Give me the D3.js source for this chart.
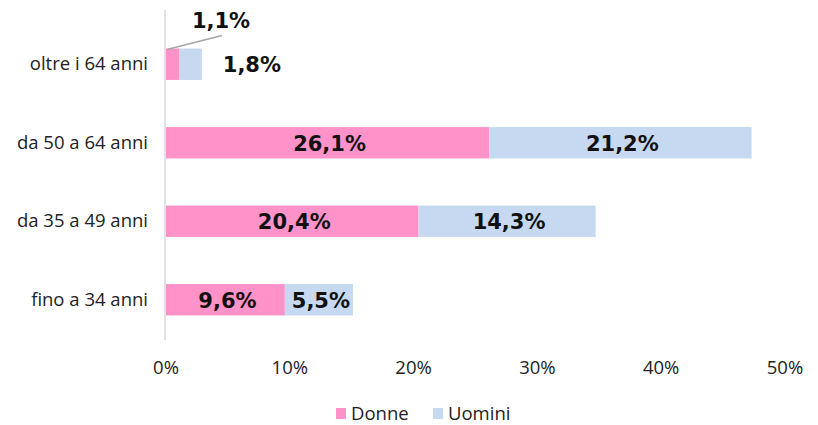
<!DOCTYPE html>
<html>
<head>
<meta charset="utf-8">
<script src="https://cdn.jsdelivr.net/npm/d3@7"></script>
<style>
  body { margin: 0; background: #fff; }
  svg { display: block; }
</style>
</head>
<body>
<svg width="818" height="425"></svg>
<script>
let categories = ["oltre i 64 anni", "da 50 a 64 anni", "da 35 a 49 anni", "fino a 34 anni"];
let donne = [1.1, 26.1, 20.4, 9.6];
let uomini = [1.8, 21.2, 14.3, 5.5];
let tickValues = [0, 10, 20, 30, 40, 50];
let seriesNames = ["Donne", "Uomini"];
let colors = ["#ff93c9", "#c6d9f0"];

let svg = d3.select("svg");

let x = d3.scaleLinear().domain([0, 50]).range([166, 785]);
let y = d3.scaleBand().domain(categories).range([25, 339]).paddingInner(0.6).paddingOuter(0.3);

let rows = categories.map((c, i) => ({cat: c, d: donne[i], u: uomini[i]}));

// vertical axis line
svg.append("line")
  .attr("x1", x(0) - 1).attr("x2", x(0) - 1)
  .attr("y1", 10).attr("y2", 340)
  .style("stroke", "#d9d9d9").style("stroke-width", 1.5);

let g = svg.append("g");

g.selectAll("rect.donne")
  .data(rows)
  .join("rect")
  .attr("class", "donne")
  .attr("x", x(0))
  .attr("y", d => y(d.cat))
  .attr("width", d => x(d.d) - x(0))
  .attr("height", y.bandwidth())
  .style("fill", colors[0]);

g.selectAll("rect.uomini")
  .data(rows)
  .join("rect")
  .attr("class", "uomini")
  .attr("x", d => x(d.d))
  .attr("y", d => y(d.cat))
  .attr("width", d => x(d.d + d.u) - x(d.d))
  .attr("height", y.bandwidth())
  .style("fill", colors[1]);

let fmt = v => v.toFixed(1).replace(".", ",") + "%";
let labelFont = "bold 21px 'DejaVu Sans', Verdana, sans-serif";

// data labels in the big bars
let big = rows.slice(1);
g.selectAll("text.ld")
  .data(big)
  .join("text")
  .attr("x", d => (x(0) + x(d.d)) / 2 + 2)
  .attr("y", d => y(d.cat) + y.bandwidth() / 2 + 8)
  .attr("text-anchor", "middle")
  .style("font", labelFont)
  .style("fill", "#111")
  .text(d => fmt(d.d));

g.selectAll("text.lu")
  .data(big)
  .join("text")
  .attr("x", d => (x(d.d) + x(d.d + d.u)) / 2 + 2)
  .attr("y", d => y(d.cat) + y.bandwidth() / 2 + 8)
  .attr("text-anchor", "middle")
  .style("font", labelFont)
  .style("fill", "#111")
  .text(d => fmt(d.u));

// small bar: labels outside, with leader line for Donne
let r0 = rows[0];
svg.append("line")
  .attr("x1", x(0) + 1).attr("y1", y(r0.cat) + 1)
  .attr("x2", x(0) + 56).attr("y2", y(r0.cat) - 13)
  .style("stroke", "#a6a6a6").style("stroke-width", 1.5);
svg.append("text")
  .attr("x", 221).attr("y", 28)
  .attr("text-anchor", "middle")
  .style("font", labelFont)
  .style("fill", "#111")
  .text(fmt(r0.d));
svg.append("text")
  .attr("x", x(r0.d + r0.u) + 50).attr("y", y(r0.cat) + y.bandwidth() / 2 + 8)
  .attr("text-anchor", "middle")
  .style("font", labelFont)
  .style("fill", "#111")
  .text(fmt(r0.u));

// category labels
svg.selectAll("text.cat")
  .data(categories)
  .join("text")
  .attr("x", 148)
  .attr("y", d => y(d) + y.bandwidth() / 2 + 6)
  .attr("text-anchor", "end")
  .style("font", "18.5px 'Open Sans', sans-serif")
  .style("fill", "#222")
  .text(d => d);

// x tick labels
svg.selectAll("text.tick")
  .data(tickValues)
  .join("text")
  .attr("x", d => x(d))
  .attr("y", 374)
  .attr("text-anchor", "middle")
  .style("font", "18.5px 'Open Sans', sans-serif")
  .style("fill", "#222")
  .text(d => d + "%");

// legend
let legend = svg.append("g").attr("transform", "translate(336, 407)");
let lx = [0, 97];
seriesNames.forEach((s, i) => {
  legend.append("rect")
    .attr("x", lx[i]).attr("y", 1)
    .attr("width", 10).attr("height", 11)
    .style("fill", colors[i]);
  legend.append("text")
    .attr("x", lx[i] + 15).attr("y", 13)
    .style("font", "18.5px 'Open Sans', sans-serif")
    .style("fill", "#222")
    .text(s);
});
</script>
</body>
</html>
